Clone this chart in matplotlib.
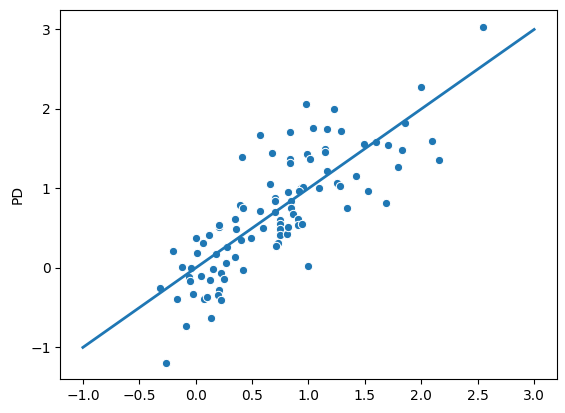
import matplotlib
matplotlib.use('Agg')
import matplotlib.pyplot as plt
import numpy as np

# points
x_vals = [-0.26, -0.09, 0.14, -0.32, -0.17, -0.02, 0.07, 0.10, 0.21, 0.20,
          0.22, -0.06, -0.05, 0.045, 0.124, 0.15, 0.22, 0.248, -0.117, -0.043,
          -0.20, 0.01, 0.18, 0.275, 0.345, 0.265, 0.415, 0.0, 0.062, 0.115,
          0.204, 0.21, 0.345, 0.354, 0.40, 0.486, 0.395, 0.416, 0.566, 0.60,
          0.663, 0.707, 0.707, 0.82, 0.707, 0.75, 0.746, 0.75, 0.75, 0.81,
          0.817, 0.728, 0.716, 0.846, 0.846, 0.866, 0.905, 0.905, 0.943, 0.934,
          0.955, 0.92, 0.98, 1.228, 0.566, 0.84, 1.043, 1.166, 1.29, 0.68,
          0.84, 0.84, 0.99, 1.01, 1.146, 1.146, 1.166, 1.42, 1.252, 1.28,
          1.096, 1.34, 1.0, 2.544, 2.0, 1.855, 1.493, 1.6, 1.705, 1.826,
          2.094, 2.16, 1.793, 1.53, 1.688, 0.41]
pd_vals = [-1.19, -0.73, -0.635, -0.25, -0.39, -0.325, -0.39, -0.36, -0.28, -0.34,
           -0.40, -0.12, -0.17, -0.10, -0.157, -0.01, -0.06, -0.136, 0.015, 0.0,
           0.21, 0.19, 0.18, 0.26, 0.14, 0.057, -0.02, 0.38, 0.317, 0.42,
           0.52, 0.54, 0.61, 0.49, 0.35, 0.38, 0.786, 0.76, 0.72, 0.505,
           1.06, 0.88, 0.836, 0.95, 0.707, 0.60, 0.556, 0.49, 0.42, 0.43,
           0.52, 0.31, 0.27, 0.836, 0.757, 0.68, 0.62, 0.535, 0.556, 1.009,
           1.017, 0.966, 2.065, 2.0, 1.675, 1.713, 1.763, 1.75, 1.726, 1.45,
           1.365, 1.314, 1.43, 1.37, 1.49, 1.46, 1.22, 1.16, 1.063, 1.034,
           1.0, 0.757, 0.02, 3.03, 2.27, 1.826, 1.56, 1.587, 1.55, 1.487,
           1.6, 1.36, 1.27, 0.97, 0.82, 1.40]

line_x = [-1, 3]
line_y = [-1, 3]

fig = plt.figure(figsize=(5.65, 4.13), dpi=100)
ax = fig.add_axes([60.3/565, (413-379.3)/413, 496.4/565, 369/413])

ax.scatter(x_vals, pd_vals, s=36, color='#1f77b4', edgecolor='white', linewidth=0.75)
ax.plot(line_x, line_y, color='#1f77b4', linewidth=2)
ax.set_ylabel('PD')

fig.savefig('out.png', dpi=100)
